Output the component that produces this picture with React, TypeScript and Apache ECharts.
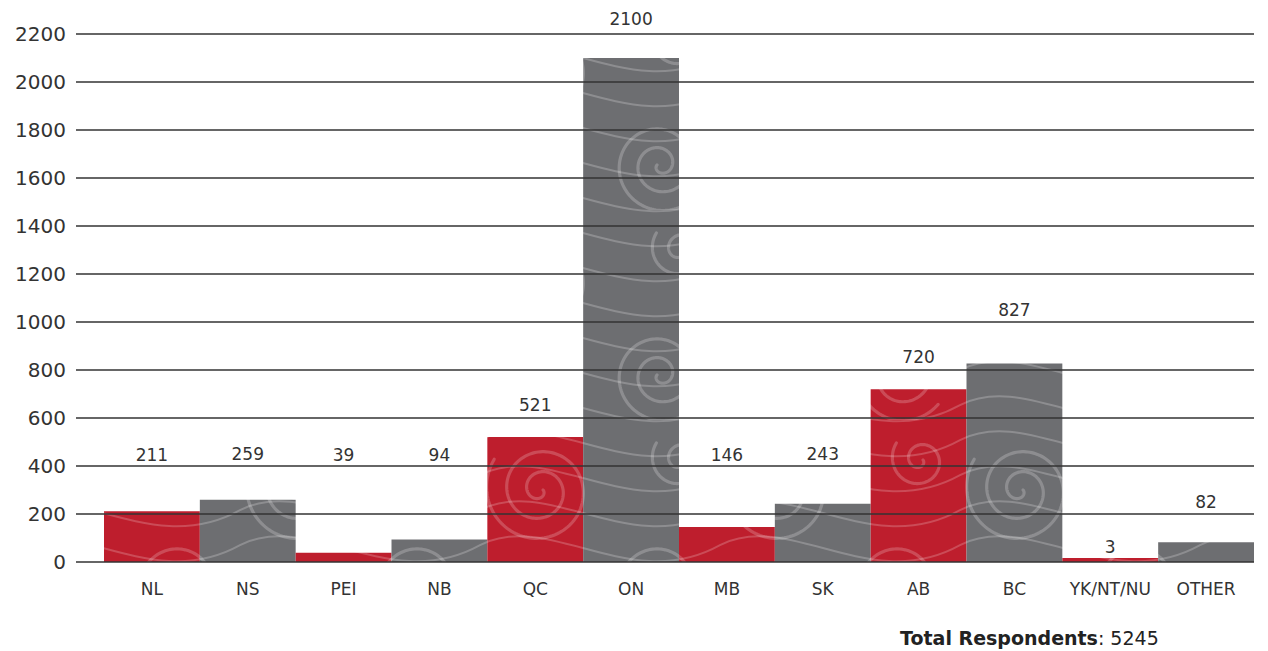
import React, { useEffect, useRef } from "react";
import * as echarts from "echarts";

const categories = ["NL", "NS", "PEI", "NB", "QC", "ON", "MB", "SK", "AB", "BC", "YK/NT/NU", "OTHER"];
const respondents = [211, 259, 39, 94, 521, 2100, 146, 243, 720, 827, 3, 82];
const barTone = ["red", "gray", "red", "gray", "red", "gray", "red", "gray", "red", "gray", "red", "gray"];
// visual gap between bar top and its value label (style only)
const labelGap = [48, 37, 89, 76, 23, 31, 63, 41, 24, 45, 3, 32];
const yTicks = { min: 0, max: 2200, interval: 200 };
const totalLabel = "Total Respondents";
const totalValue = 5245;

const FONT = "'DejaVu Sans', 'Noto Sans', sans-serif";

function makePattern(base: string, line: string) {
  const W = 240, H = 210;
  const c = document.createElement("canvas");
  c.width = W;
  c.height = H;
  const g = c.getContext("2d") as CanvasRenderingContext2D;
  g.fillStyle = base;
  g.fillRect(0, 0, W, H);
  g.strokeStyle = line;
  g.lineCap = "round";
  // flowing waves
  g.lineWidth = 2;
  for (let i = -1; i < 7; i++) {
    const y = i * 35;
    g.beginPath();
    g.moveTo(0, y + 20);
    g.bezierCurveTo(70, y - 15, 150, y + 70, 240, y + 20);
    g.stroke();
  }
  // swirls
  const spiral = (cx: number, cy: number, turns: number, step: number, dir: number) => {
    g.lineWidth = 3.2;
    g.beginPath();
    for (let t = 0; t <= turns * Math.PI * 2; t += 0.05) {
      const r = 3 + step * t;
      const x = cx + dir * r * Math.cos(t);
      const y = cy + r * Math.sin(t);
      if (t === 0) g.moveTo(x, y);
      else g.lineTo(x, y);
    }
    g.stroke();
  };
  spiral(60, 70, 2.6, 3.2, 1);
  spiral(180, 165, 2.4, 3.0, -1);
  spiral(200, 40, 1.6, 2.6, 1);
  return c;
}

export default function App() {
  const ref = useRef<HTMLDivElement>(null);
  useEffect(() => {
    if (!ref.current) return;
    const chart = echarts.init(ref.current, null, { renderer: "svg" });
    const redPat = makePattern("#be1e2d", "rgba(255,255,255,0.2)");
    const grayPat = makePattern("#6d6e71", "rgba(255,255,255,0.22)");

    const data = respondents.map((v, i) => ({
      value: v,
      itemStyle: {
        color: { image: barTone[i] === "red" ? redPat : grayPat, repeat: "repeat" },
      },
      label: { distance: labelGap[i] },
    }));

    chart.setOption({
      animation: false,
      backgroundColor: "#ffffff",
      grid: [
        { left: 76, right: 14, top: 34, bottom: 89 },
        { left: 104, right: 14, top: 34, bottom: 89 },
      ],
      xAxis: [
        { type: "category", gridIndex: 0, data: categories, show: false },
        {
          type: "category",
          gridIndex: 1,
          data: categories,
          axisLine: { show: false },
          axisTick: { show: false },
          axisLabel: {
            color: "#333",
            fontFamily: FONT,
            fontSize: 17,
            margin: 18,
            interval: 0,
          },
        },
      ],
      yAxis: [
        {
          type: "value",
          gridIndex: 0,
          min: yTicks.min,
          max: yTicks.max,
          interval: yTicks.interval,
          z: 10,
          axisLine: { show: false },
          axisTick: { show: false },
          axisLabel: {
            color: "#333",
            fontFamily: FONT,
            fontSize: 20,
            margin: 10,
            formatter: (v: number) => String(v),
          },
          splitLine: { show: true, lineStyle: { color: "#333", width: 1.5 } },
        },
        {
          type: "value",
          gridIndex: 1,
          min: yTicks.min,
          max: yTicks.max,
          interval: yTicks.interval,
          show: false,
          splitLine: { show: false },
        },
      ],
      series: [
        {
          type: "bar",
          xAxisIndex: 1,
          yAxisIndex: 1,
          data,
          barCategoryGap: "0%",
          barMinHeight: 4,
          label: {
            show: true,
            position: "top",
            color: "#333",
            fontFamily: FONT,
            fontSize: 17,
          },
        },
      ],
      graphic: [
        {
          type: "text",
          left: 900,
          top: 628,
          style: {
            text: `{b|${totalLabel}}{n|: ${totalValue}}`,
            rich: {
              b: { fontFamily: FONT, fontSize: 19, fontWeight: "bold", fill: "#222" },
              n: { fontFamily: FONT, fontSize: 19, fill: "#222" },
            },
          },
        },
      ],
    });
    return () => chart.dispose();
  }, []);
  return (
    <div
      ref={ref}
      style={{ position: "fixed", left: 0, top: 0, width: 1268, height: 651 }}
    />
  );
}
